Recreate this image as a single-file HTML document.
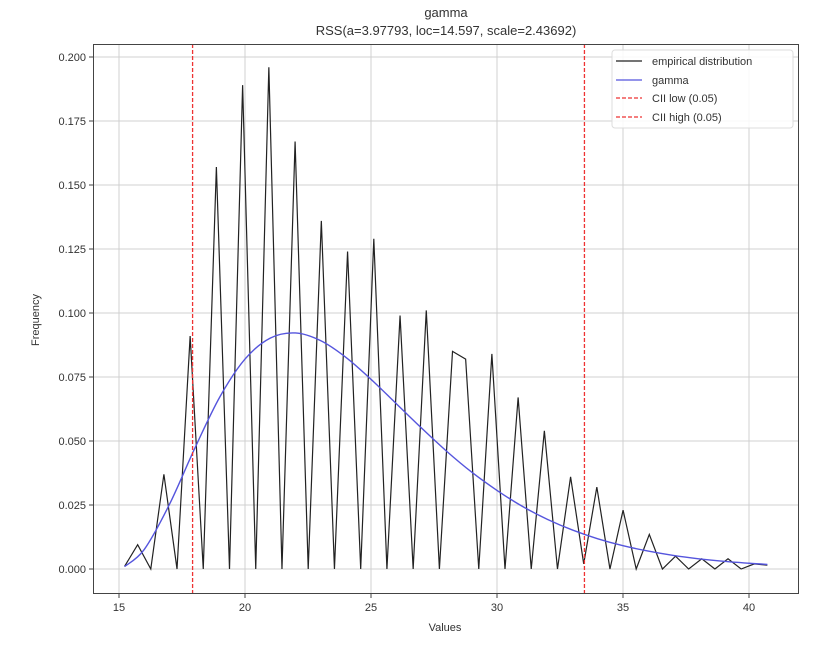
<!DOCTYPE html>
<html><head><meta charset="utf-8"><style>
html,body{margin:0;padding:0;background:#fff;}
svg text{font-family:"Liberation Sans","DejaVu Sans",sans-serif;fill:#333;}
</style></head><body>
<svg id="chart" width="840" height="642" xmlns="http://www.w3.org/2000/svg">
<text x="446" y="17" font-size="13" text-anchor="middle">gamma</text>
<text x="446" y="35" font-size="13" text-anchor="middle">RSS(a=3.97793, loc=14.597, scale=2.43692)</text>
<g id="grid"></g>
<g id="series"></g>
<rect x="93.5" y="44.5" width="705" height="549" fill="none" stroke="#444" stroke-width="1"/>
<g id="ticks"></g>
<text x="445" y="631" font-size="11" text-anchor="middle">Values</text>
<text x="39" y="320" font-size="11" text-anchor="middle" transform="rotate(-90 39 320)">Frequency</text>
<g>
<rect x="612" y="50" width="181" height="78" rx="3" fill="#fff" fill-opacity="0.85" stroke="#ddd"/>
<line x1="616" y1="61" x2="642" y2="61" stroke="#222" stroke-width="1.3"/>
<text x="652" y="65" font-size="11">empirical distribution</text>
<line x1="616" y1="80" x2="642" y2="80" stroke="#5555dd" stroke-width="1.3"/>
<text x="652" y="84" font-size="11">gamma</text>
<line x1="616" y1="98" x2="642" y2="98" stroke="#e33" stroke-width="1.3" stroke-dasharray="4,2"/>
<text x="652" y="102" font-size="11">CII low (0.05)</text>
<line x1="616" y1="117" x2="642" y2="117" stroke="#e33" stroke-width="1.3" stroke-dasharray="4,2"/>
<text x="652" y="121" font-size="11">CII high (0.05)</text>
</g>
</svg>
<script>
const binStart = 15.22;
const binWidth = 0.5206;
const empiricalY = [0.001,0.0095,0,0.037,0,0.091,0,0.157,0,0.189,0,0.196,0,0.167,0,0.136,0,0.124,0,0.129,0,0.099,0,0.101,0,0.085,0.082,0,0.084,0,0.067,0,0.054,0,0.036,0.002,0.032,0,0.023,0,0.0135,0,0.005,0,0.004,0,0.004,0,0.002,0.0015];
const gammaX = [15.22,16,17,18,19,20,21,22,23,24,25,26,27,28,29,30,31,32,33,34,35,36,37,38,39,40,40.73];
const gammaY = [0.00094,0.0076,0.0252,0.047,0.0672,0.082,0.0902,0.0922,0.0892,0.0827,0.0741,0.0646,0.0551,0.046,0.0378,0.0307,0.0245,0.0194,0.0152,0.0118,0.0091,0.007,0.0053,0.004,0.003,0.00225,0.0018];
const ciiLow = 17.92;
const ciiHigh = 33.47;
const xTicks = [15,20,25,30,35,40];
const yTicks = [0,0.025,0.05,0.075,0.1,0.125,0.15,0.175,0.2];
const yTickLabels = ["0.000","0.025","0.050","0.075","0.100","0.125","0.150","0.175","0.200"];

const NS = "http://www.w3.org/2000/svg";
const X = v => 119 + (v - 15) * 25.2;
const Y = v => 569 - v * 2560;
function mk(tag, attrs, parent){const e=document.createElementNS(NS,tag);for(const k in attrs)e.setAttribute(k,attrs[k]);parent.appendChild(e);return e;}
const grid=document.getElementById('grid'), ticks=document.getElementById('ticks'), series=document.getElementById('series');
xTicks.forEach(t=>{
  const g=mk('line',{x1:X(t),x2:X(t),y1:44,y2:594,stroke:'#d0d0d0','stroke-width':1},grid);
  
  
  const tk=mk('line',{x1:X(t),x2:X(t),y1:594,y2:598,stroke:'#444'},ticks);
  
  
  const tx=mk('text',{x:X(t),y:611,'font-size':11,'text-anchor':'middle'},ticks);
  tx.textContent=t;
  
  
});
yTicks.forEach((t,i)=>{
  const g=mk('line',{x1:93,x2:799,y1:Y(t),y2:Y(t),stroke:'#d0d0d0','stroke-width':1},grid);
  
  
  const tk=mk('line',{x1:89,x2:93,y1:Y(t),y2:Y(t),stroke:'#444'},ticks);
  
  
  const tx=mk('text',{x:86,y:Y(t)+4,'font-size':11,'text-anchor':'end'},ticks);
  tx.textContent=yTickLabels[i];
  
  
});
const ep=empiricalY.map((v,i)=>X(binStart+i*binWidth).toFixed(2)+','+Y(v).toFixed(2)).join(' ');
const epl=mk('polyline',{points:ep,fill:'none',stroke:'#222','stroke-width':1.2,'stroke-linejoin':'miter'},series);


// smooth gamma curve through sampled points (Catmull-Rom)
const P=gammaY.map((v,i)=>[X(gammaX[i]),Y(v)]);
let d='M'+P[0][0].toFixed(2)+','+P[0][1].toFixed(2);
for(let i=0;i<P.length-1;i++){
  const p0=P[Math.max(0,i-1)],p1=P[i],p2=P[i+1],p3=P[Math.min(P.length-1,i+2)];
  const c1=[p1[0]+(p2[0]-p0[0])/6,p1[1]+(p2[1]-p0[1])/6];
  const c2=[p2[0]-(p3[0]-p1[0])/6,p2[1]-(p3[1]-p1[1])/6];
  d+=' C'+c1[0].toFixed(2)+','+c1[1].toFixed(2)+' '+c2[0].toFixed(2)+','+c2[1].toFixed(2)+' '+p2[0].toFixed(2)+','+p2[1].toFixed(2);
}
const gpl=mk('path',{d:d,fill:'none',stroke:'#5555dd','stroke-width':1.4},series);


[[ciiLow,'cii-low-line'],[ciiHigh,'cii-high-line']].forEach(([v,n])=>{
  const l=mk('line',{x1:X(v),x2:X(v),y1:44,y2:594,stroke:'#e33','stroke-width':1.3,'stroke-dasharray':'4,2'},series);
  
  
});
</script>
</body></html>
